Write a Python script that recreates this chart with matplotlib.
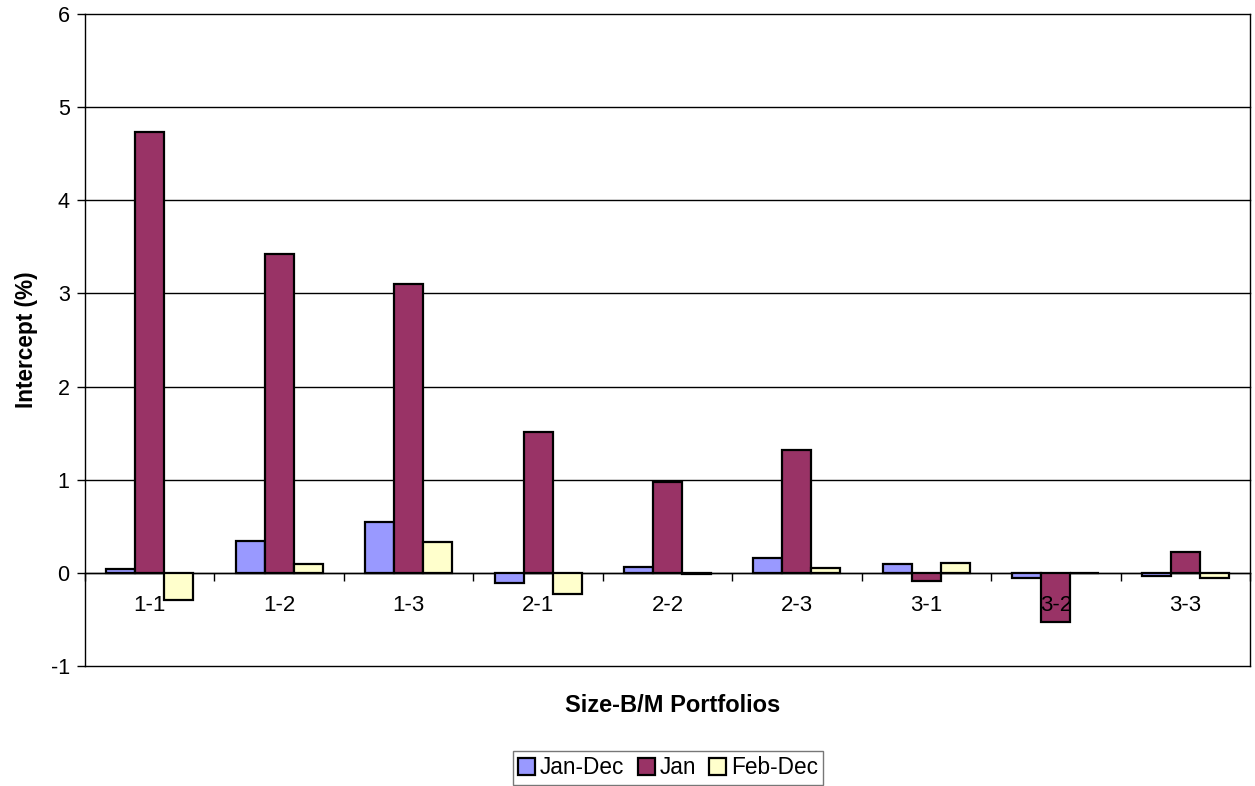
import matplotlib
matplotlib.use("Agg")
import matplotlib.pyplot as plt
import numpy as np

plt.rcParams['font.family'] = ['Liberation Sans', 'DejaVu Sans']

categories = ["1-1", "1-2", "1-3", "2-1", "2-2", "2-3", "3-1", "3-2", "3-3"]
jan_dec = [0.04, 0.34, 0.55, -0.11, 0.065, 0.16, 0.09, -0.06, -0.03]
jan = [4.73, 3.42, 3.10, 1.51, 0.98, 1.32, -0.09, -0.53, 0.22]
feb_dec = [-0.29, 0.10, 0.33, -0.23, -0.01, 0.05, 0.11, 0.0, -0.05]
series_names = ["Jan-Dec", "Jan", "Feb-Dec"]
yticks = [-1, 0, 1, 2, 3, 4, 5, 6]

colors = ["#9999FF", "#993366", "#FFFFCC"]

fig = plt.figure(figsize=(12.55, 7.86), dpi=100)
ax = fig.add_axes([85 / 1255, 1 - 666 / 786, 1165 / 1255, 652 / 786])

x = np.arange(len(categories))
w = 0.224
for i, (vals, name, c) in enumerate(zip([jan_dec, jan, feb_dec], series_names, colors)):
    ax.bar(x + (i - 1) * w, vals, width=w, color=c, edgecolor="black",
           linewidth=1.6, label=name, zorder=3)

ax.set_xlim(-0.5, len(categories) - 0.5)
ax.set_ylim(-1, 6)

# horizontal gridlines behind the bars; axis text drawn above them
for v in yticks:
    ax.axhline(v, color="black", linewidth=1.0, zorder=1, clip_on=False)
ax.set_axisbelow(False)
ax.xaxis.set_zorder(5)

ax.set_yticks(yticks)
ax.set_yticklabels([str(v) for v in yticks], fontsize=15.5)
ax.tick_params(axis="y", direction="out", length=6, width=1, pad=5)

# x-axis line at zero, labels sit below it
ax.spines["bottom"].set_position(("data", 0))
ax.spines["bottom"].set_linewidth(1.0)
ax.spines["bottom"].set_zorder(2)
ax.spines["top"].set_visible(False)
ax.spines["left"].set_linewidth(1)
ax.spines["right"].set_linewidth(1)
ax.set_xticks(x)
ax.set_xticklabels(categories, fontsize=16)
ax.tick_params(axis="x", which="major", length=0, pad=16)
ax.set_xticks(np.arange(len(categories) + 1) - 0.5, minor=True)
ax.tick_params(axis="x", which="minor", direction="out", length=6, width=1)

ax.set_ylabel("Intercept (%)", fontsize=16.3, fontweight="bold", labelpad=9)
fig.text(673 / 1255, 1 - 706 / 786, "Size-B/M Portfolios", fontsize=17,
         fontweight="bold", ha="center", va="center")

handles, labels = ax.get_legend_handles_labels()
leg = fig.legend(handles, labels, loc="center", bbox_to_anchor=(668 / 1255, 1 - 768 / 786),
                 ncol=3, fontsize=16.3, frameon=True, fancybox=False, edgecolor="#555555",
                 handlelength=0.75, handleheight=0.75, handletextpad=0.2,
                 columnspacing=0.6, borderpad=0.25, borderaxespad=0)
leg.get_frame().set_linewidth(1)

fig.savefig("out.png", dpi=100)
